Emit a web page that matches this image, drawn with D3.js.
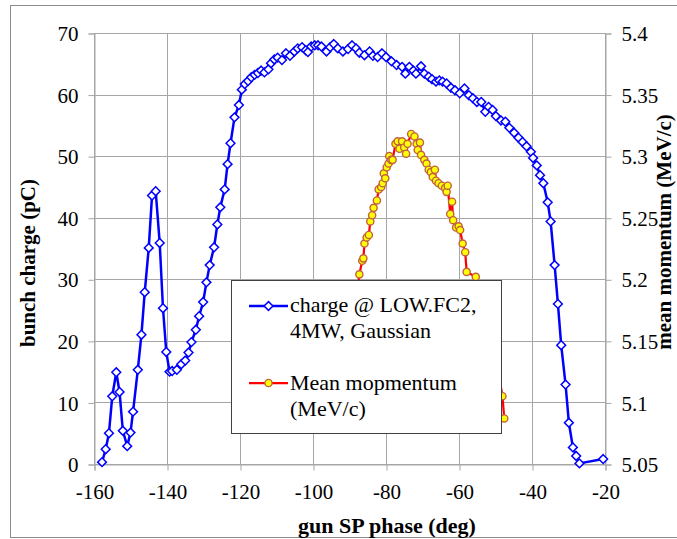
<!DOCTYPE html>
<html>
<head>
<meta charset="utf-8">
<script src="https://cdn.jsdelivr.net/npm/d3@7"></script>
<style>
  body { margin: 0; background: #fff; }
  svg text { font-family: "Liberation Serif", "Times New Roman", serif; fill: #000; }
</style>
</head>
<body>
<svg id="chart"></svg>
<script>
// gun SP phase (deg) / bunch charge (pC)
const chargePhase = [
  -157.8, -156.8, -155.9, -155.0, -153.9, -153.0, -152.1, -150.9, -150.0, -149.3,
  -148.0, -147.0, -146.1, -145.0, -144.1, -143.1, -142.0, -141.1, -140.2, -139.3,
  -138.6, -137.3, -136.1, -135.0, -134.1, -133.3, -132.1, -131.2, -130.1, -129.2,
  -128.3, -127.1, -126.2, -125.4, -124.2, -123.4, -122.6, -121.5, -120.3, -119.5,
  -118.7, -117.8, -116.9, -116.0, -115.1, -114.2, -113.3, -112.2, -111.5, -110.6,
  -109.7, -108.5, -107.4, -106.3, -105.1, -104.2, -103.0, -102.0, -101.4, -100.5,
  -99.5, -98.6, -97.7, -96.3, -95.3, -94.3, -93.2, -91.8, -90.4, -89.3,
  -88.2, -87.3, -85.9, -84.5, -83.6, -82.3, -81.1, -80.0, -78.5, -77.1,
  -75.6, -74.7, -73.6, -72.5, -71.8, -70.4, -69.5, -68.3, -67.4, -66.3,
  -65.4, -64.5, -63.4, -62.2, -61.1, -59.8, -58.5, -57.3, -56.2, -55.1,
  -53.9, -52.8, -51.9, -50.8, -49.9, -48.5, -47.3, -46.2, -44.9, -43.7,
  -42.6, -41.5, -40.3, -39.7, -38.7, -37.8, -36.9, -35.7, -34.9, -33.8,
  -32.9, -32.0, -30.8, -29.9, -28.8, -27.9, -27.0, -20.5
];
const chargeValues = [
  0.3, 2.4, 5.0, 11.0, 14.9, 11.7, 5.4, 2.9, 5.1, 8.5,
  15.3, 21.0, 27.9, 35.1, 43.6, 44.3, 35.9, 25.3, 18.2, 15.0,
  15.1, 15.3, 16.2, 16.8, 18.1, 19.8, 21.8, 24.0, 26.3, 29.5,
  32.3, 35.2, 38.9, 41.7, 44.6, 48.7, 52.1, 56.3, 58.3, 60.8,
  61.7, 62.2, 62.8, 63.2, 63.5, 63.9, 63.6, 64.1, 65.1, 65.7,
  66.0, 65.6, 66.7, 66.3, 67.0, 67.5, 67.7, 67.2, 66.9, 67.8,
  68.0, 68.0, 67.8, 67.0, 67.7, 68.2, 67.5, 67.0, 67.4, 68.0,
  67.5, 66.8, 66.4, 67.0, 66.3, 66.1, 66.7, 66.1, 65.4, 64.8,
  64.5, 63.4, 64.5, 63.9, 63.4, 64.6, 63.4, 62.9, 62.5, 62.1,
  62.3, 62.1, 61.8, 61.1, 60.7, 60.2, 61.0, 59.9, 59.4, 58.8,
  58.8, 57.2, 58.0, 57.5, 56.5, 55.8, 55.6, 54.6, 53.8, 53.0,
  52.3, 51.6, 50.7, 49.7, 48.5, 46.9, 45.6, 42.5, 39.4, 32.3,
  26.0, 19.3, 12.9, 6.7, 2.7, 1.3, 0.1, 0.8
];

// gun SP phase (deg) / mean momentum (MeV/c)
const momentumPhase = [
  -90.5, -89.5, -88.8, -88.0,
  -87.3, -86.5, -86.2, -85.9, -85.3, -84.7, -84.3, -83.8, -83.4, -82.5,
  -82.0, -81.3, -80.9, -80.6, -80.2, -79.8, -79.3, -79.1, -78.6, -78.2,
  -77.4, -76.8, -76.3, -75.6, -75.0, -74.5, -74.1, -73.1, -72.2, -71.6,
  -71.3, -70.7, -70.4, -69.5, -68.9, -68.3, -67.7, -67.2, -66.6, -66.3,
  -65.6, -64.7, -63.8, -63.4, -63.1, -62.4, -61.9, -61.6, -60.8, -60.1,
  -59.7, -59.0, -58.3, -57.9, -55.4,
  -53.0, -51.0, -49.5, -48.1, -47.6
];
const momentumValues = [
  5.110, 5.135, 5.160, 5.185,
  5.204, 5.215, 5.217, 5.229, 5.234, 5.236, 5.247, 5.252, 5.258, 5.264,
  5.273, 5.275, 5.278, 5.286, 5.282, 5.291, 5.294, 5.300, 5.297, 5.297,
  5.310, 5.312, 5.306, 5.312, 5.307, 5.302, 5.310, 5.318, 5.316, 5.310,
  5.305, 5.311, 5.301, 5.297, 5.294, 5.289, 5.287, 5.283, 5.289, 5.280,
  5.278, 5.276, 5.274, 5.271, 5.276, 5.253, 5.263, 5.248, 5.242, 5.243,
  5.240, 5.229, 5.222, 5.206, 5.202,
  5.185, 5.160, 5.130, 5.105, 5.087
];

const xTicks = [-160, -140, -120, -100, -80, -60, -40, -20];
const yTicks = [0, 10, 20, 30, 40, 50, 60, 70];
const y2Ticks = [5.05, 5.1, 5.15, 5.2, 5.25, 5.3, 5.35, 5.4];

const chargeLabel = ["charge @ LOW.FC2,", "4MW, Gaussian"];
const momentumLabel = ["Mean mopmentum", "(MeV/c)"];

const W = 677, H = 539;
const plot = { left: 94, right: 605, top: 33, bottom: 464 };
const gridColor = "#a6a6a6";

const svg = d3.select("#chart").attr("width", W).attr("height", H);

// outer chart border
svg.append("rect")
  .attr("x", 10.5).attr("y", 5.5)
  .attr("width", 670).attr("height", 532)
  .attr("fill", "#fff")
  .attr("stroke", "#8c8c8c");

const x = d3.scaleLinear().domain([-160, -20]).range([plot.left, plot.right]);
const y = d3.scaleLinear().domain([0, 70]).range([plot.bottom, plot.top]);
const y2 = d3.scaleLinear().domain([5.05, 5.4]).range([plot.bottom, plot.top]);

// gridlines
svg.append("g")
  .selectAll("line")
  .data(yTicks)
  .enter()
  .append("line")
  .attr("x1", plot.left).attr("x2", plot.right)
  .attr("y1", (d) => Math.round(y(d)) + 0.5)
  .attr("y2", (d) => Math.round(y(d)) + 0.5)
  .attr("stroke", gridColor);

svg.append("g")
  .selectAll("line")
  .data(xTicks)
  .enter()
  .append("line")
  .attr("x1", (d) => Math.round(x(d)) + 0.5)
  .attr("x2", (d) => Math.round(x(d)) + 0.5)
  .attr("y1", plot.top).attr("y2", plot.bottom)
  .attr("stroke", gridColor);

// axes
const fmt = (d) => String(d);

const axisLeft = svg.append("g")
  .attr("transform", `translate(${plot.left + 0.5},0.5)`)
  .call(d3.axisLeft(y).tickValues(yTicks).tickSize(6).tickPadding(10).tickFormat(fmt));

const axisRight = svg.append("g")
  .attr("transform", `translate(${plot.right + 0.5},0.5)`)
  .call(d3.axisRight(y2).tickValues(y2Ticks).tickSize(6).tickPadding(10).tickFormat(fmt));

const axisBottom = svg.append("g")
  .attr("transform", `translate(0.5,${plot.bottom + 0.5})`)
  .call(d3.axisBottom(x).tickValues(xTicks).tickSize(6).tickPadding(12).tickFormat(fmt));

[axisLeft, axisRight, axisBottom].forEach((g) => {
  g.select(".domain").attr("stroke", gridColor);
  g.selectAll(".tick line").attr("stroke", gridColor);
  g.selectAll(".tick text")
    .style("font-family", '"Liberation Serif", serif')
    .style("font-size", "21px")
    .attr("fill", "#000");
});
axisLeft.selectAll(".tick text").attr("dy", "0.34em");
axisRight.selectAll(".tick text").attr("dy", "0.34em");
axisBottom.selectAll(".tick text").attr("dy", "0.8em");

// axis titles
svg.append("text")
  .attr("transform", "translate(35,263) rotate(-90)")
  .attr("text-anchor", "middle")
  .style("font-size", "21px")
  .style("font-weight", "bold")
  .text("bunch charge (pC)");

svg.append("text")
  .attr("transform", "translate(671,232) rotate(-90)")
  .attr("text-anchor", "middle")
  .style("font-size", "21px")
  .style("font-weight", "bold")
  .text("mean momentum (MeV/c)");

svg.append("text")
  .attr("x", 298).attr("y", 533)
  .style("font-size", "22px")
  .style("font-weight", "bold")
  .text("gun SP phase (deg)");

// series
const chargeData = chargePhase.map((p, i) => ({ p, v: chargeValues[i] }));
const momentumData = momentumPhase.map((p, i) => ({ p, v: momentumValues[i] }));

const diamond = (r) => `M0,${-r}L${r},0L0,${r}L${-r},0Z`;

svg.append("path")
  .datum(momentumData)
  .attr("fill", "none")
  .attr("stroke", "#ff0000")
  .attr("stroke-width", 2.25)
  .attr("stroke-linejoin", "round")
  .attr("d", d3.line().x((d) => x(d.p)).y((d) => y2(d.v)));

svg.append("g")
  .selectAll("circle")
  .data(momentumData)
  .enter()
  .append("circle")
  .attr("cx", (d) => x(d.p))
  .attr("cy", (d) => y2(d.v))
  .attr("r", 3.6)
  .attr("fill", "#ffff00")
  .attr("stroke", "#c2603f")
  .attr("stroke-width", 1.4);

svg.append("path")
  .datum(chargeData)
  .attr("fill", "none")
  .attr("stroke", "#0000ff")
  .attr("stroke-width", 2.5)
  .attr("stroke-linejoin", "round")
  .attr("d", d3.line().x((d) => x(d.p)).y((d) => y(d.v)));

svg.append("g")
  .selectAll("path")
  .data(chargeData)
  .enter()
  .append("path")
  .attr("transform", (d) => `translate(${x(d.p)},${y(d.v)})`)
  .attr("d", diamond(4.4))
  .attr("fill", "#fff")
  .attr("stroke", "#0000ff")
  .attr("stroke-width", 1.5);

// legend
const legend = svg.append("g");
legend.append("rect")
  .attr("x", 231.5).attr("y", 280.5)
  .attr("width", 270).attr("height", 153)
  .attr("fill", "#fff")
  .attr("stroke", "#404040");

legend.append("line")
  .attr("x1", 249).attr("x2", 288).attr("y1", 306).attr("y2", 306)
  .attr("stroke", "#0000ff").attr("stroke-width", 2.5);
legend.append("path")
  .attr("transform", "translate(268.5,306)")
  .attr("d", diamond(4.4))
  .attr("fill", "#fff").attr("stroke", "#0000ff").attr("stroke-width", 1.5);

legend.append("line")
  .attr("x1", 249).attr("x2", 288).attr("y1", 383).attr("y2", 383)
  .attr("stroke", "#ff0000").attr("stroke-width", 2.25);
legend.append("circle")
  .attr("cx", 268.5).attr("cy", 383).attr("r", 3.6)
  .attr("fill", "#ffff00").attr("stroke", "#c2603f").attr("stroke-width", 1.4);

legend.append("g")
  .selectAll("text")
  .data(chargeLabel)
  .enter()
  .append("text")
  .attr("x", 290)
  .attr("y", (d, i) => 312 + i * 26)
  .style("font-size", "22px")
  .text((d) => d);

legend.append("g")
  .selectAll("text")
  .data(momentumLabel)
  .enter()
  .append("text")
  .attr("x", 290)
  .attr("y", (d, i) => 390 + i * 26)
  .style("font-size", "22px")
  .text((d) => d);
</script>
</body>
</html>
